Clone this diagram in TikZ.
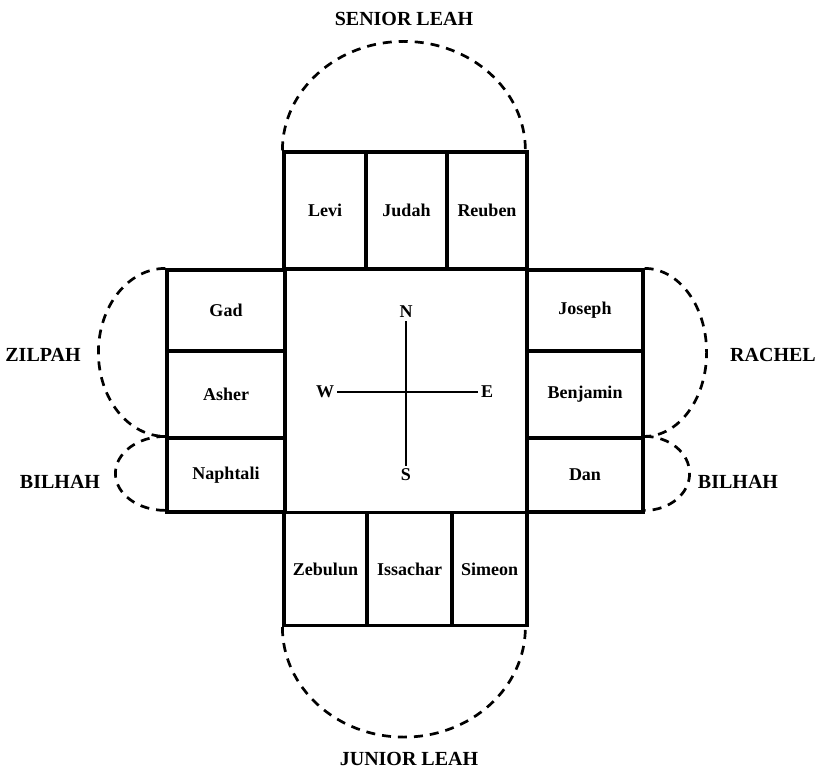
\documentclass[tikz,border=0pt]{standalone}
\usepackage{fontspec}
\setmainfont{Liberation Serif}
\begin{document}
\begin{tikzpicture}[x=1pt,y=-1pt,
  cell/.style={draw, line width=3.2pt, inner sep=0pt, font=\fontsize{18}{21}\selectfont\bfseries},
  lbl/.style={inner sep=0pt, font=\fontsize{20}{23}\selectfont\bfseries},
  cmp/.style={inner sep=3pt, font=\fontsize{18}{21}\selectfont\bfseries},
  arcline/.style={line width=2.7pt, dash pattern=on 9pt off 7pt}]
\useasboundingbox (0,0) rectangle (822,770);
% central square
\node[cell, minimum width=242pt, minimum height=243pt] (center) at (406,391) {};
% top block
\node[cell, minimum width=82pt, minimum height=117pt] (levi) at (325,210.5) {Levi};
\node[cell, minimum width=81pt, minimum height=117pt] (judah) at (406.5,210.5) {Judah};
\node[cell, minimum width=80pt, minimum height=117pt] (reuben) at (487,210.5) {Reuben};
% left column
\node[cell, minimum width=118pt, minimum height=81pt] (gad) at (226,310.5) {Gad};
\node[cell, minimum width=118pt, minimum height=87pt] (asher) at (226,394.5) {Asher};
\node[cell, minimum width=118pt, minimum height=74pt] (naphtali) at (226,475) {Naphtali};
% right column
\node[cell, minimum width=116pt, minimum height=81pt] (joseph) at (585,310.5) {Joseph};
\node[cell, minimum width=116pt, minimum height=87pt] (benjamin) at (585,394.5) {Benjamin};
\node[cell, minimum width=116pt, minimum height=74pt] (dan) at (585,475) {Dan};
% bottom block
\node[cell, minimum width=83pt, minimum height=113pt] (zebulun) at (325.5,569) {Zebulun};
\node[cell, minimum width=85pt, minimum height=113pt] (issachar) at (409.5,569) {Issachar};
\node[cell, minimum width=75pt, minimum height=113pt] (simeon) at (489.5,569) {Simeon};
% compass
\node[cmp] (n) at (406,312) {N};
\node[cmp] (s) at (406,475) {S};
\node[cmp] (w) at (325,392) {W};
\node[cmp] (e) at (487,392) {E};
\draw[line width=2.8pt] (n) -- (s);
\draw[line width=2.8pt] (w) -- (e);
% dashed arcs
\draw[arcline] (levi.north west) arc[start angle=180, end angle=0, x radius=121.5pt, y radius=109pt];
\draw[arcline] (zebulun.south west) arc[start angle=180, end angle=360, x radius=121.5pt, y radius=110pt];
\draw[arcline] (gad.north west) arc[start angle=90, end angle=270, x radius=67pt, y radius=84pt];
\draw[arcline] (naphtali.north west) arc[start angle=90, end angle=270, x radius=50pt, y radius=37pt];
\draw[arcline] (joseph.north east) arc[start angle=90, end angle=-90, x radius=62pt, y radius=84pt];
\draw[arcline] (dan.north east) arc[start angle=90, end angle=-90, x radius=45pt, y radius=37pt];
% wife labels
\node[lbl] (senior) at (404,19) {SENIOR LEAH};
\node[lbl] (junior) at (409,759) {JUNIOR LEAH};
\node[lbl] (zilpah) at (43,355) {ZILPAH};
\node[lbl] (bilhahl) at (60,482) {BILHAH};
\node[lbl] (rachel) at (773,355) {RACHEL};
\node[lbl] (bilhahr) at (738,482) {BILHAH};
\end{tikzpicture}
\end{document}
